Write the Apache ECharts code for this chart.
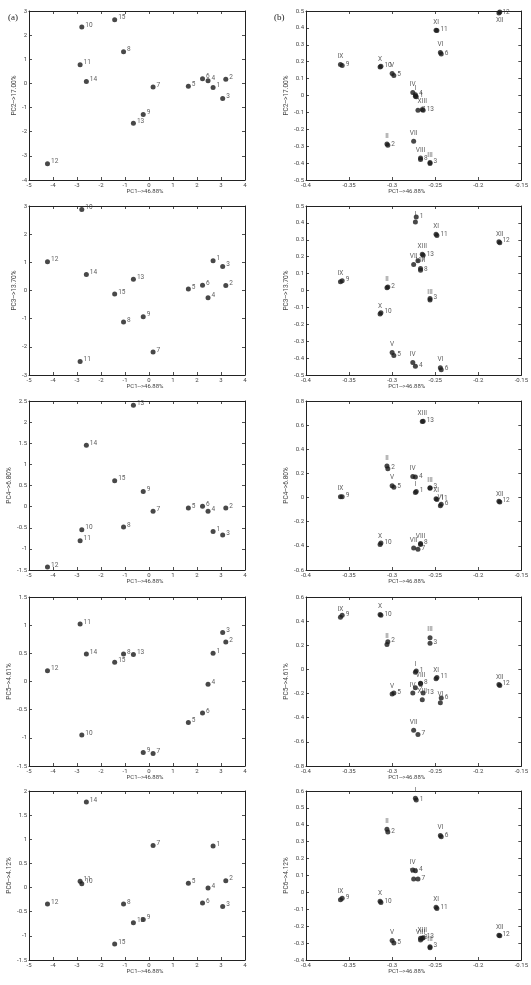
<!DOCTYPE html>
<html>
<head>
<meta charset="utf-8">
<script src="https://cdn.jsdelivr.net/npm/echarts@6/dist/echarts.min.js"></script>
<style>
html,body{margin:0;padding:0;background:#fff;}
#chart{width:531px;height:985px;}
</style>
</head>
<body>
<div id="chart"></div>
<script>
// (a) sample scores, samples 1..15
var sampleNames = ['1','2','3','4','5','6','7','8','9','10','11','12','13','14','15'];
var scorePC1 = [2.67, 3.20, 3.07, 2.46, 1.64, 2.23, 0.17, -1.06, -0.24, -2.80, -2.87, -4.23, -0.65, -2.61, -1.43];
var scorePC2 = [-0.17, 0.17, -0.62, 0.11, -0.12, 0.19, -0.15, 1.31, -1.29, 2.34, 0.77, -3.33, -1.65, 0.08, 2.64];
var scorePC3 = [1.06, 0.18, 0.85, -0.26, 0.05, 0.19, -2.18, -1.12, -0.93, 2.88, -2.52, 1.02, 0.40, 0.57, -0.12];
var scorePC4 = [-0.59, -0.03, -0.67, -0.11, -0.03, 0.01, -0.11, -0.48, 0.36, -0.55, -0.81, -1.43, 2.40, 1.45, 0.61];
var scorePC5 = [0.50, 0.70, 0.87, -0.05, -0.73, -0.56, -1.28, 0.49, -1.26, -0.95, 1.02, 0.19, 0.48, 0.49, 0.34];
var scorePC6 = [0.86, 0.14, -0.39, -0.01, 0.09, -0.32, 0.87, -0.34, -0.66, 0.08, 0.13, -0.34, -0.73, 1.77, -1.17];

// (b) loadings, variables I..XIII (roman) and 1..13 (arabic)
var romanNames = ['I','II','III','IV','V','VI','VII','VIII','IX','X','XI','XII','XIII'];
var arabicNames = ['1','2','3','4','5','6','7','8','9','10','11','12','13'];
var romanPC1 = [-0.273, -0.306, -0.256, -0.276, -0.300, -0.244, -0.275, -0.267, -0.360, -0.314, -0.249, -0.175, -0.265];
var arabicPC1 = [-0.272, -0.305, -0.256, -0.273, -0.298, -0.243, -0.270, -0.267, -0.358, -0.313, -0.248, -0.176, -0.264];
var romanPC2 = [-0.005, -0.287, -0.402, 0.018, 0.130, 0.254, -0.270, -0.370, 0.183, 0.169, 0.386, 0.494, -0.083];
var arabicPC2 = [-0.008, -0.295, -0.396, 0.005, 0.118, 0.246, -0.087, -0.378, 0.178, 0.173, 0.384, 0.488, -0.088];
var romanPC3 = [0.406, 0.016, -0.056, -0.426, -0.367, -0.457, 0.154, 0.130, 0.052, -0.139, 0.333, 0.283, 0.215];
var arabicPC3 = [0.435, 0.020, -0.048, -0.448, -0.385, -0.469, 0.176, 0.120, 0.058, -0.131, 0.325, 0.289, 0.209];
var romanPC4 = [0.043, 0.261, 0.078, 0.174, 0.097, -0.067, -0.417, -0.389, 0.007, -0.389, -0.009, -0.037, 0.630];
var arabicPC4 = [0.051, 0.239, 0.081, 0.171, 0.086, -0.056, -0.428, -0.380, 0.007, -0.376, -0.015, -0.031, 0.632];
var romanPC5 = [-0.023, 0.207, 0.262, -0.196, -0.204, -0.276, -0.503, -0.114, 0.433, 0.454, -0.078, -0.133, -0.251];
var arabicPC5 = [-0.012, 0.229, 0.216, -0.152, -0.195, -0.237, -0.539, -0.118, 0.449, 0.449, -0.067, -0.125, -0.196];
var romanPC6 = [0.557, 0.374, -0.327, 0.132, -0.284, 0.337, 0.079, -0.282, -0.044, -0.052, -0.088, -0.257, -0.272];
var arabicPC6 = [0.547, 0.358, -0.321, 0.128, -0.300, 0.329, 0.079, -0.272, -0.035, -0.060, -0.095, -0.253, -0.268];

// axis texts and ranges
var xName = 'PC1-->46.88%';
var yNames = ['PC2-->17.00%', 'PC3-->13.70%', 'PC4-->6.80%', 'PC5-->4.61%', 'PC6-->4.12%'];
var scoreXRange = [-5, 4, 1];
var scoreYRanges = [[-4, 3, 1], [-3, 3, 1], [-1.5, 2.5, 0.5], [-1.5, 1.5, 0.5], [-1.5, 2, 0.5]];
var loadXRange = [-0.4, -0.15, 0.05];
var loadYRanges = [[-0.5, 0.5, 0.1], [-0.5, 0.5, 0.1], [-0.6, 0.8, 0.2], [-0.8, 0.6, 0.2], [-0.4, 0.6, 0.1]];

var scoreY = [scorePC2, scorePC3, scorePC4, scorePC5, scorePC6];
var romanY = [romanPC2, romanPC3, romanPC4, romanPC5, romanPC6];
var arabicY = [arabicPC2, arabicPC3, arabicPC4, arabicPC5, arabicPC6];

var FONT = 'Roboto';
var rowTops = [11, 206, 401, 597, 791];
var grids = [], xAxes = [], yAxes = [], series = [];

function pts(names, xs, ys){
	var out = [];
	for (var i = 0; i < names.length; i++) {
		out.push({name: names[i], value: [xs[i], ys[i]]});
	}
	return out;
}

function axisBase(g, r){
	return {
		gridIndex: g, min: r[0], max: r[1], interval: r[2],
		splitLine: {show: false},
		axisLine: {onZero: false, lineStyle: {color: '#222', width: 1}},
		axisTick: {inside: true, length: 3, lineStyle: {color: '#222', width: 0.8}},
		axisLabel: {show: false}
	};
}

function addPanel(left, top, xr, yr, yName, xNamePad){
	var g = grids.length;
	grids.push({left: left, top: top, width: 216, height: 169});
	var xb = axisBase(g, xr);
	xb.position = 'bottom';
	xb.axisLabel = {show: true, fontSize: 6, color: '#444', fontFamily: FONT, margin: 2};
	xb.name = xName;
	xb.nameLocation = 'middle';
	xb.nameGap = 8.5;
	xb.nameTextStyle = {fontSize: 6, color: '#444', fontFamily: FONT, padding: xNamePad};
	var xt = axisBase(g, xr);
	xt.position = 'top';
	var yl = axisBase(g, yr);
	yl.position = 'left';
	yl.axisLabel = {show: true, fontSize: 6, color: '#444', fontFamily: FONT, margin: 2};
	yl.name = yName;
	yl.nameLocation = 'middle';
	yl.nameGap = 11;
	yl.nameTextStyle = {fontSize: 6.5, color: '#444', fontFamily: FONT};
	var yr2 = axisBase(g, yr);
	yr2.position = 'right';
	xAxes.push(xb, xt);
	yAxes.push(yl, yr2);
	return 2 * g;
}

var dotStyle = {color: '#1a1a1a'};
for (var r = 0; r < 5; r++) {
	// left column: scores
	var ai = addPanel(29, rowTops[r], scoreXRange, scoreYRanges[r], yNames[r], [0, 0, 0, 16]);
	series.push({
		type: 'scatter', xAxisIndex: ai, yAxisIndex: ai, symbolSize: 5,
		itemStyle: dotStyle,
		data: pts(sampleNames, scorePC1, scoreY[r]),
		label: {show: true, position: 'right', distance: 1, offset: [0, -2], formatter: '{b}', fontSize: 6.5, color: '#333', fontFamily: FONT}
	});
	// right column: loadings
	var bi = addPanel(306, rowTops[r], loadXRange, loadYRanges[r], yNames[r], [0, 14, 0, 0]);
	var romanData = pts(romanNames, romanPC1, romanY[r]);
	// a point touching the top border gets its label underneath
	romanData.forEach(function(d){
		if (d.value[1] > loadYRanges[r][1] - 0.03) d.label = {position: 'bottom'};
	});
	series.push({
		type: 'scatter', xAxisIndex: bi, yAxisIndex: bi, symbolSize: 5,
		itemStyle: dotStyle,
		data: romanData,
		label: {show: true, position: 'top', distance: 2, formatter: '{b}', fontSize: 6.5, color: '#333', fontFamily: FONT}
	});
	series.push({
		type: 'scatter', xAxisIndex: bi, yAxisIndex: bi, symbolSize: 5,
		itemStyle: dotStyle,
		data: pts(arabicNames, arabicPC1, arabicY[r]),
		label: {show: true, position: 'right', distance: 1, offset: [0, -1], formatter: '{b}', fontSize: 6.5, color: '#333', fontFamily: FONT}
	});
}

var option = {
	animation: false,
	backgroundColor: '#fff',
	title: [
		{text: '(a)', left: 3, top: 8, textStyle: {fontSize: 9, fontWeight: 'normal', color: '#222', fontFamily: 'Liberation Serif'}},
		{text: '(b)', left: 269, top: 8, textStyle: {fontSize: 9, fontWeight: 'normal', color: '#222', fontFamily: 'Liberation Serif'}}
	],
	grid: grids,
	xAxis: xAxes,
	yAxis: yAxes,
	series: series
};
var myChart = echarts.init(document.getElementById('chart'));
myChart.setOption(option);
</script>
</body>
</html>
